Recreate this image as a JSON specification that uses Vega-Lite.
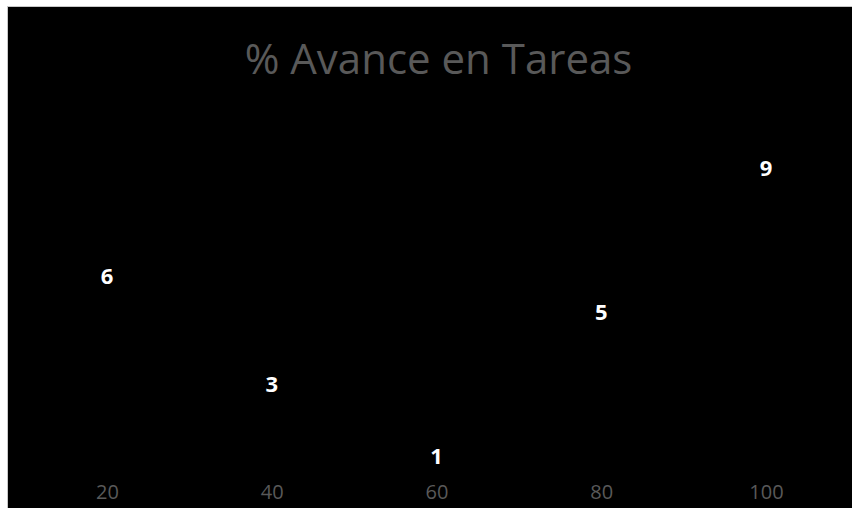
{
  "$schema": "https://vega.github.io/schema/vega-lite/v6.json",
  "width": 852,
  "height": 508,
  "autosize": {"type": "fit", "contains": "padding"},
  "padding": {"left": 7, "top": 6, "right": 0, "bottom": 0},
  "background": "#ffffff",
  "config": {
    "view": {"fill": "#000000", "stroke": "#c8c8c8", "strokeWidth": 1},
    "font": "Open Sans"
  },
  "title": {
    "text": "% Avance en Tareas",
    "font": "Open Sans",
    "fontSize": 42,
    "fontWeight": "normal",
    "color": "#595959",
    "anchor": "middle",
    "frame": "group",
    "baseline": "alphabetic",
    "offset": -110,
    "dx": 9
  },
  "data": {
    "values": [
      {"Tarea": 20, "Avance": 6},
      {"Tarea": 40, "Avance": 3},
      {"Tarea": 60, "Avance": 1},
      {"Tarea": 80, "Avance": 5},
      {"Tarea": 100, "Avance": 9}
    ]
  },
  "mark": {
    "type": "text",
    "font": "Open Sans",
    "fontSize": 22,
    "fontWeight": "bold",
    "color": "#ffffff",
    "baseline": "middle",
    "align": "center"
  },
  "encoding": {
    "x": {
      "field": "Tarea",
      "type": "quantitative",
      "scale": {"domain": [7.86, 110.44], "nice": false, "zero": false},
      "axis": {
        "title": null,
        "values": [20, 40, 60, 80, 100],
        "grid": false,
        "domain": false,
        "ticks": false,
        "tickSize": 0,
        "labelPadding": -16,
        "labelBaseline": "middle",
        "labelFont": "Open Sans",
        "labelFontSize": 20,
        "labelColor": "#595959",
        "labelFlush": false
      }
    },
    "y": {
      "field": "Avance",
      "type": "quantitative",
      "scale": {"domain": [-0.411, 13.533], "nice": false, "zero": false},
      "axis": null
    },
    "text": {"field": "Avance", "type": "quantitative"}
  }
}
